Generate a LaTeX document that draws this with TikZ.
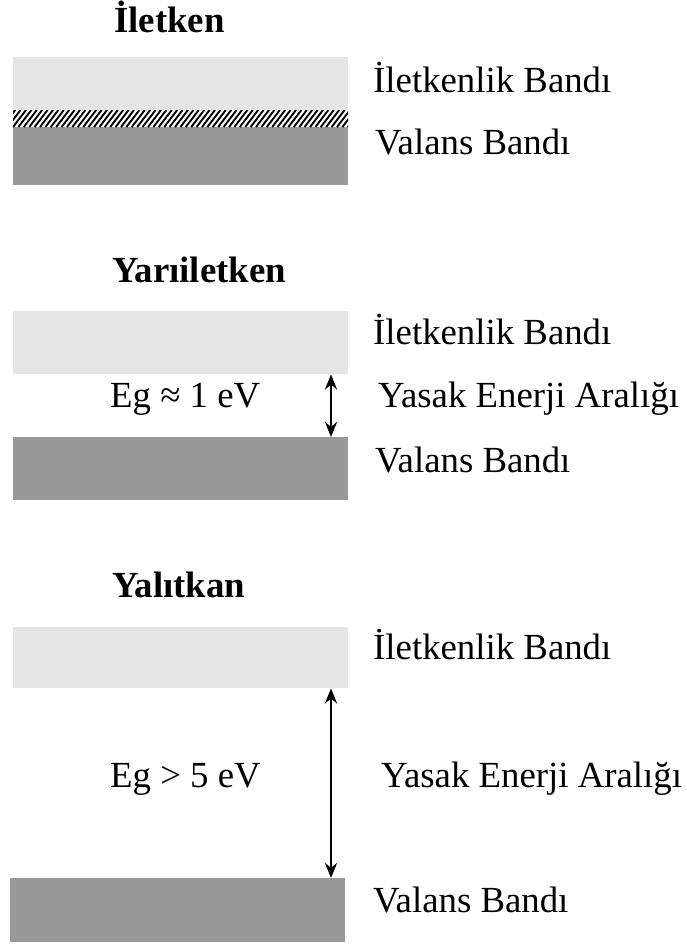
\documentclass[tikz,border=0pt]{standalone}
\usepackage{fontspec}
\setmainfont{Liberation Serif}
\usetikzlibrary{arrows.meta}
\definecolor{cbandcol}{gray}{0.9}
\definecolor{vbandcol}{gray}{0.6}
\begin{document}
\begin{tikzpicture}[x=1bp,y=-1bp,
  lbl/.style={anchor=base west, inner sep=0pt, font=\fontsize{36.8bp}{44bp}\selectfont},
  ttl/.style={anchor=base west, inner sep=0pt, font=\fontsize{36.8bp}{44bp}\selectfont\bfseries},
  band/.style={anchor=north west, inner sep=0pt, draw=none, minimum width=335bp},
  cband/.style={band, fill=cbandcol},
  vband/.style={band, fill=vbandcol},
  gaparrow/.style={{Stealth[length=15bp,width=12bp]}-{Stealth[length=15bp,width=12bp]}, line width=2.6bp}]
\useasboundingbox (0,0) rectangle (687,949);

% --- conductor ---
\node[ttl] (t1) at (114,32) {İletken};
\node[cband, minimum height=53bp] (cb1) at (13,57) {};
\node[vband, minimum height=58bp] (vb1) at (13,127) {};
\begin{scope}
  \clip (13,110) rectangle (348,127);
  \fill[white] (13,110) rectangle (348,127);
  \foreach \i in {-4,...,66} {
    \draw[line width=1.9bp] ({13+5.4*\i},127) -- ({26+5.4*\i},110);
  }
\end{scope}
\node[lbl] (c1) at (373,92) {İletkenlik Bandı};
\node[lbl] (v1) at (375,154) {Valans Bandı};

% --- semiconductor ---
\node[ttl] (t2) at (112,282) {Yarıiletken};
\node[cband, minimum height=63bp] (cb2) at (13,311) {};
\node[vband, minimum height=63bp] (vb2) at (13,437) {};
\coordinate (gx2) at (331,0);
\draw[gaparrow] (cb2.south -| gx2) -- (vb2.north -| gx2);
\node[lbl] (c2) at (373,344) {İletkenlik Bandı};
\node[lbl] (e2) at (110,407) {Eg ≈ 1 eV};
\node[lbl] (y2) at (378,407) {Yasak Enerji Aralığı};
\node[lbl] (v2) at (375,472) {Valans Bandı};

% --- insulator ---
\node[ttl] (t3) at (112,597) {Yalıtkan};
\node[cband, minimum height=61bp] (cb3) at (13,627) {};
\node[vband, minimum height=64bp] (vb3) at (10,878) {};
\coordinate (gx3) at (331,0);
\draw[gaparrow] (cb3.south -| gx3) -- (vb3.north -| gx3);
\node[lbl] (c3) at (373,659) {İletkenlik Bandı};
\node[lbl] (e3) at (110,787) {Eg > 5 eV};
\node[lbl] (y3) at (381,787) {Yasak Enerji Aralığı};
\node[lbl] (v3) at (373,912) {Valans Bandı};
\end{tikzpicture}
\end{document}
